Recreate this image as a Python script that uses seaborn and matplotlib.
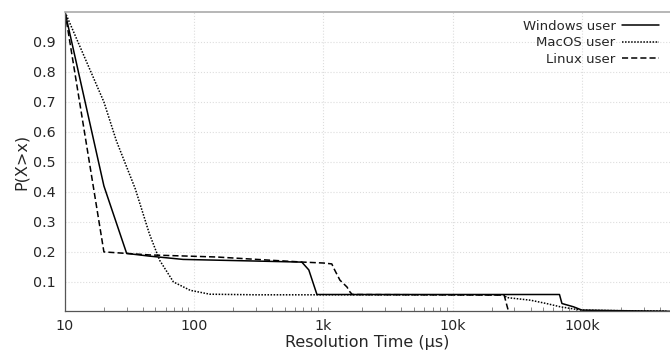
import numpy as np
import pandas as pd
import matplotlib
matplotlib.use('Agg')
import matplotlib.pyplot as plt
import matplotlib.ticker as mticker
import seaborn as sns

# valores (CCDF del tiempo de resolucion)
windows_x = [10, 20, 30, 45, 82, 270, 680, 770, 890, 67000, 70000, 86000, 100000, 200000, 480000]
windows_y = [1.0, 0.42, 0.195, 0.186, 0.175, 0.170, 0.166, 0.14, 0.058, 0.058, 0.028, 0.017, 0.006, 0.004, 0.002]

macos_x = [10, 20, 25, 35, 45, 54, 69, 93, 132, 300, 25000, 26000, 40000, 53000, 68000, 98000, 200000, 450000]
macos_y = [1.0, 0.70, 0.57, 0.41, 0.26, 0.172, 0.10, 0.072, 0.059, 0.057, 0.057, 0.048, 0.039, 0.028, 0.017, 0.006, 0.004, 0.003]

linux_x = [10, 20, 45, 150, 400, 700, 1000, 1160, 1200, 1340, 1520, 1600, 1670, 25000, 26500, 27000]
linux_y = [1.0, 0.20, 0.190, 0.183, 0.172, 0.166, 0.163, 0.160, 0.146, 0.106, 0.083, 0.067, 0.058, 0.056, 0.015, 0.003]

etiquetas = ['Windows user', 'MacOS user', 'Linux user']
estilos = ['-', (0, (1, 1)), (0, (4, 2))]
ticks_x = [10, 100, 1000, 10000, 100000]
ticks_x_txt = ['10', '100', '1k', '10k', '100k']
ticks_y = [0.1, 0.2, 0.3, 0.4, 0.5, 0.6, 0.7, 0.8, 0.9]

sns.set_style('white')
plt.rcParams['font.family'] = ['DejaVu Sans']

fig = plt.figure(figsize=(6.7, 3.55), dpi=100)
ax = fig.add_axes([65 / 670, 44 / 355, 605 / 670, 299 / 355])

series = [(windows_x, windows_y), (macos_x, macos_y), (linux_x, linux_y)]
for (xs, ys), nombre, ls in zip(series, etiquetas, estilos):
    df = pd.DataFrame({'x': xs, 'y': ys})
    sns.lineplot(data=df, x='x', y='y', ax=ax, color='black', linewidth=1.1,
                 linestyle=ls, label=nombre, estimator=None, sort=False)

ax.set_xscale('log')
ax.set_xlim(10, 4.8e5)
ax.set_ylim(0.003, 1.0)
ax.set_xticks(ticks_x)
ax.set_xticklabels(ticks_x_txt)
ax.xaxis.set_minor_locator(mticker.LogLocator(base=10, subs=np.arange(2, 10)))
ax.xaxis.set_minor_formatter(mticker.NullFormatter())
ax.set_yticks(ticks_y)
ax.set_yticklabels([f'{v:.1f}' for v in ticks_y])

ax.grid(True, which='major', color='#dddddd', linestyle=':', linewidth=0.8)
ax.tick_params(axis='y', which='major', direction='out', length=4.5, width=0.8,
               color='#555555', labelsize=10.3, pad=2)
ax.tick_params(axis='x', which='major', direction='out', length=4, width=0.8,
               color='#555555', labelsize=10.3, pad=2)
ax.tick_params(axis='x', which='minor', direction='in', length=3, width=0.6,
               color='#777777', bottom=True)

for lado in ['left', 'bottom']:
    ax.spines[lado].set_color('#555555')
    ax.spines[lado].set_linewidth(0.9)
ax.spines['top'].set_color('#aaaaaa')
ax.spines['top'].set_linewidth(1.2)
ax.spines['right'].set_visible(False)

ax.set_xlabel('Resolution Time (µs)', fontsize=11.5, labelpad=1)
ax.set_ylabel('P(X>x)', fontsize=11.5, labelpad=3)

ax.legend(loc='upper right', frameon=False, markerfirst=False, fontsize=9.5,
          handlelength=2.8, handletextpad=0.5, labelspacing=0.25,
          borderaxespad=0.2, bbox_to_anchor=(0.995, 1.0))

fig.savefig('out.png', dpi=100)
